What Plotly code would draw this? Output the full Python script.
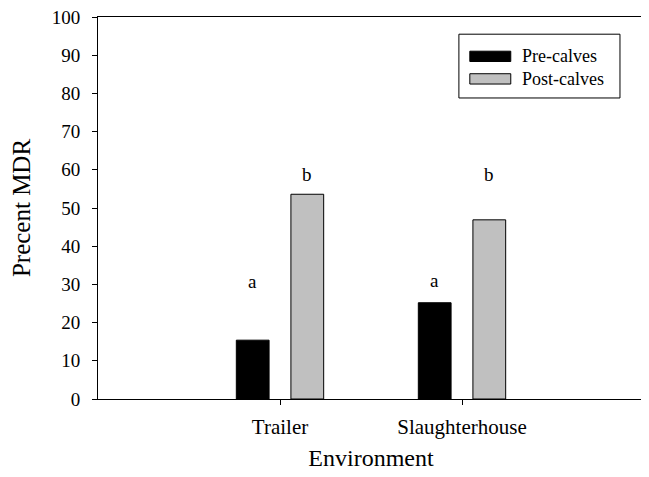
import plotly.graph_objects as go

categories = ["Trailer", "Slaughterhouse"]
pre_calves = [15.4, 25.2]
post_calves = [53.6, 46.9]
pre_letters = ["a", "a"]
post_letters = ["b", "b"]
letter_y_pre = [30.8, 31.0]
letter_y_post = [58.9, 58.9]
y_ticks = list(range(0, 101, 10))

FONT = "Liberation Serif"

fig = go.Figure()
fig.add_trace(go.Bar(x=categories, y=pre_calves, name="Pre-calves",
                     marker=dict(color="black", line=dict(color="black", width=1)),
                     showlegend=False))
fig.add_trace(go.Bar(x=categories, y=post_calves, name="Post-calves",
                     marker=dict(color="#c0c0c0", line=dict(color="black", width=1)),
                     showlegend=False))

annotations = []
for i, cat in enumerate(categories):
    annotations.append(dict(x=i - 0.15, y=letter_y_pre[i], xref="x", yref="y",
                            text=pre_letters[i], showarrow=False,
                            font=dict(family=FONT, size=19, color="black")))
    annotations.append(dict(x=i + 0.15, y=letter_y_post[i], xref="x", yref="y",
                            text=post_letters[i], showarrow=False,
                            font=dict(family=FONT, size=19, color="black")))

# custom legend (box + swatches + labels), paper coordinates
legend_names = ["Pre-calves", "Post-calves"]
legend_colors = ["black", "#c0c0c0"]
legend_rows = [0.897, 0.838]
shapes = [dict(type="rect", xref="paper", yref="paper", x0=0.661, x1=0.956,
               y0=0.788, y1=0.955, line=dict(color="black", width=1),
               fillcolor="white", layer="above")]
for name, col, yc in zip(legend_names, legend_colors, legend_rows):
    shapes.append(dict(type="rect", xref="paper", yref="paper", x0=0.681, x1=0.756,
                       y0=yc - 0.0135, y1=yc + 0.0135,
                       line=dict(color="black", width=1), fillcolor=col, layer="above"))
    annotations.append(dict(x=0.773, y=yc, xref="paper", yref="paper", text=name,
                            showarrow=False, xanchor="left", yanchor="middle",
                            font=dict(family=FONT, size=18, color="black")))

# page body has an 8px default margin; size/margins compensate for it
fig.update_layout(
    width=641, height=469,
    margin=dict(l=90, r=5, t=9, b=78, autoexpand=False),
    paper_bgcolor="white", plot_bgcolor="white",
    barmode="group", bargap=0.4, bargroupgap=0.4,
    font=dict(family=FONT, color="black"),
    shapes=shapes, annotations=annotations,
    showlegend=False,
)
fig.update_xaxes(
    type="category", range=[-1, 2],
    showline=True, linecolor="black", linewidth=1, mirror=True,
    ticks="outside", ticklen=5, tickcolor="black", tickwidth=1,
    showgrid=False, zeroline=False, automargin=False,
    tickfont=dict(family=FONT, size=21, color="black"),
    ticklabelstandoff=4,
    title=dict(text="Environment", font=dict(family=FONT, size=24, color="black"), standoff=10),
)
fig.update_yaxes(
    range=[0, 100], tickvals=y_ticks,
    showline=True, linecolor="black", linewidth=1, mirror=True,
    ticks="outside", ticklen=5, tickcolor="black", tickwidth=1,
    showgrid=False, zeroline=False, automargin=False,
    tickfont=dict(family=FONT, size=19, color="black"),
    ticklabelstandoff=8, ticklabeloverflow="allow",
    title=dict(text="Precent MDR", font=dict(family=FONT, size=25, color="black"), standoff=14),
)

fig.write_html("out.html")
